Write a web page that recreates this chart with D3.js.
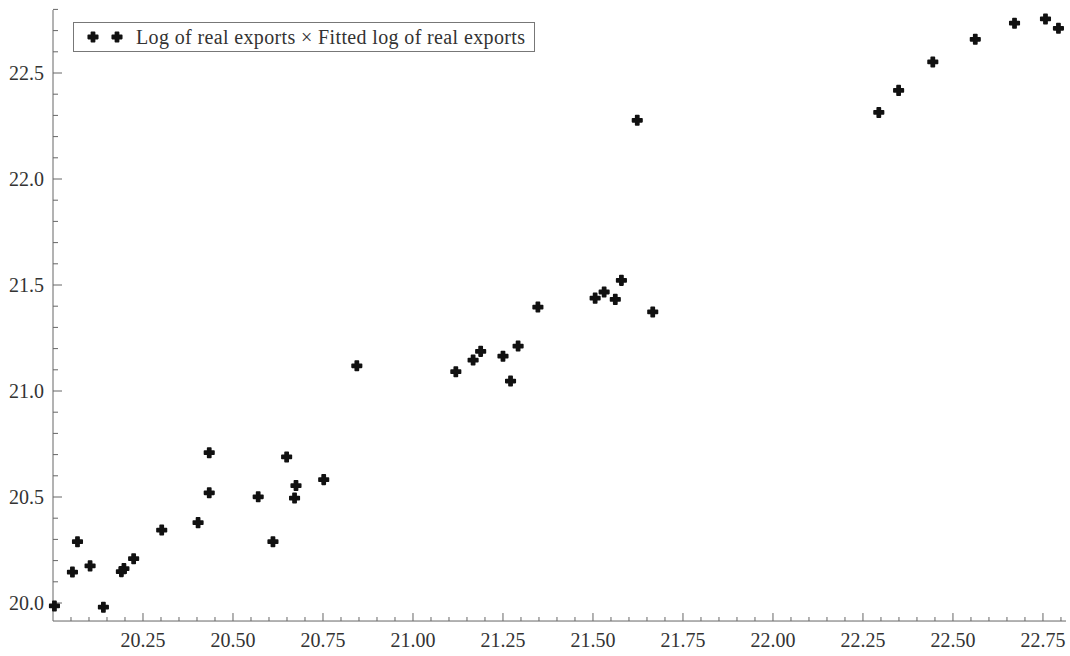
<!DOCTYPE html>
<html>
<head>
<meta charset="utf-8">
<script src="https://cdn.jsdelivr.net/npm/d3@7"></script>
<style>
  html, body { margin: 0; padding: 0; background: #fff; }
  svg { display: block; }
  text { font-family: "Liberation Serif", "DejaVu Serif", serif; fill: #333; }
</style>
</head>
<body>
<svg id="chart" width="1070" height="656"></svg>
<script>
// Data: log of real exports (x) vs fitted log of real exports (y)
const xValues = [20.004, 20.054, 20.068, 20.103, 20.140, 20.190, 20.197, 20.224, 20.302, 20.403,
  20.434, 20.434, 20.570, 20.611, 20.649, 20.671, 20.675, 20.752, 20.844, 21.119,
  21.167, 21.188, 21.250, 21.271, 21.292, 21.347, 21.506, 21.531, 21.562, 21.579,
  21.623, 21.666, 22.294, 22.349, 22.444, 22.562, 22.671, 22.757, 22.793];
const yValues = [19.986, 20.146, 20.289, 20.175, 19.980, 20.148, 20.162, 20.209, 20.344, 20.379,
  20.520, 20.709, 20.501, 20.289, 20.689, 20.495, 20.554, 20.582, 21.119, 21.091,
  21.146, 21.187, 21.164, 21.047, 21.212, 21.396, 21.438, 21.467, 21.432, 21.522,
  22.277, 21.373, 22.314, 22.418, 22.552, 22.659, 22.735, 22.755, 22.711];
const xTickLabels = ["20.25", "20.50", "20.75", "21.00", "21.25", "21.50", "21.75", "22.00", "22.25", "22.50", "22.75"];
const yTickLabels = ["20.0", "20.5", "21.0", "21.5", "22.0", "22.5"];
const legendLabel = "Log of real exports \u00d7 Fitted log of real exports";

const svg = d3.select("#chart");
const x = d3.scaleLinear().domain([20.0, 22.814]).range([53, 1066]);
const y = d3.scaleLinear().domain([20.0, 22.5]).range([603, 73]);
const yBottom = 19.915, yTop = 22.797;
const axisColor = "#666";

// X axis
const xAxisY = y(yBottom);
const gx = svg.append("g");
gx.append("line").attr("x1", x(20.0)).attr("x2", x(22.814)).attr("y1", xAxisY).attr("y2", xAxisY)
  .attr("stroke", axisColor).attr("stroke-width", 1);
const xMinor = d3.range(20.05, 22.81, 0.05).map(v => +v.toFixed(2));
gx.selectAll("line.minor").data(xMinor).join("line").attr("class", "minor")
  .attr("x1", d => x(d)).attr("x2", d => x(d))
  .attr("y1", xAxisY).attr("y2", d => xAxisY - (Math.abs((d * 4) - Math.round(d * 4)) < 1e-6 ? 8 : 4))
  .attr("stroke", axisColor).attr("stroke-width", 1);
gx.selectAll("text").data(xTickLabels).join("text")
  .attr("x", d => x(+d)).attr("y", 647)
  .attr("text-anchor", "middle").attr("font-size", 20).text(d => d);

// Y axis
const yAxisX = x(20.0);
const gy = svg.append("g");
gy.append("line").attr("x1", yAxisX).attr("x2", yAxisX).attr("y1", y(yBottom)).attr("y2", y(yTop))
  .attr("stroke", axisColor).attr("stroke-width", 1);
const yMinor = d3.range(20.0, 22.8, 0.1).map(v => +v.toFixed(1));
gy.selectAll("line.minor").data(yMinor).join("line").attr("class", "minor")
  .attr("x1", yAxisX).attr("x2", d => yAxisX + (Math.abs(d * 2 - Math.round(d * 2)) < 1e-6 ? 9 : 5))
  .attr("y1", d => y(d)).attr("y2", d => y(d))
  .attr("stroke", axisColor).attr("stroke-width", 1);
gy.selectAll("text").data(yTickLabels).join("text")
  .attr("x", 44).attr("y", d => y(+d) + 7)
  .attr("text-anchor", "end").attr("font-size", 20).text(d => d);

// Points
const cross = d3.symbol().type(d3.symbolCross).size(50);
svg.append("g").selectAll("path").data(xValues.map((v, i) => [v, yValues[i]])).join("path")
  .attr("d", cross)
  .attr("transform", d => `translate(${x(d[0])},${y(d[1])})`)
  .attr("fill", "#111").attr("stroke", "#111").attr("stroke-width", 1.6).attr("stroke-linejoin", "round");

// Legend
const lg = svg.append("g");
lg.append("rect").attr("x", 73.5).attr("y", 22.5).attr("width", 461).attr("height", 29)
  .attr("fill", "#fff").attr("stroke", "#777").attr("stroke-width", 1);
[93, 117].forEach(cx => {
  lg.append("path").attr("d", cross).attr("transform", `translate(${cx},37)`)
    .attr("fill", "#111").attr("stroke", "#111").attr("stroke-width", 1.6).attr("stroke-linejoin", "round");
});
lg.append("text").attr("x", 136).attr("y", 44).attr("font-size", 20)
  .attr("textLength", 389).attr("lengthAdjust", "spacing").text(legendLabel);
</script>
</body>
</html>
